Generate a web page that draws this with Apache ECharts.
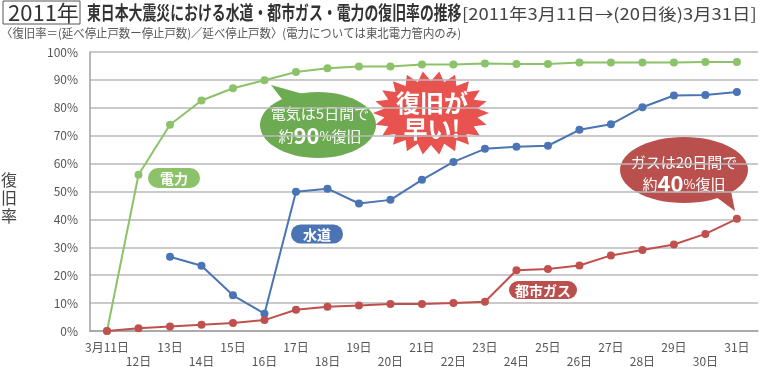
<!DOCTYPE html>
<html><head><meta charset="utf-8">
<script src="https://cdn.jsdelivr.net/npm/echarts@6/dist/echarts.min.js"></script>
<style>html,body{margin:0;padding:0;background:#fff}#c{width:760px;height:367px}</style>
</head><body><div id="c"></div>
<script>
const days = [11,12,13,14,15,16,17,18,19,20,21,22,23,24,25,26,27,28,29,30,31];
const power = [0,56.0,73.9,82.6,87.0,89.9,92.8,94.2,94.8,94.8,95.5,95.5,95.9,95.7,95.7,96.2,96.2,96.2,96.2,96.4,96.4];
const water = [null,null,26.6,23.4,12.8,6.2,49.9,51.0,45.7,47.0,54.2,60.6,65.3,66.0,66.4,72.1,74.1,80.2,84.4,84.6,85.7];
const gas = [0,1.0,1.6,2.2,2.9,3.9,7.6,8.7,9.1,9.7,9.7,10.0,10.5,21.8,22.2,23.5,27.1,29.0,31.0,34.8,40.2];
const oddDays = days.filter(d => d % 2 === 1);
const evenDays = days.filter(d => d % 2 === 0);
const F = '"Noto Sans CJK JP", "Noto Sans", sans-serif';

function pairs(vals){ const out=[]; days.forEach((d,i)=>{ if(vals[i]!==null) out.push([d,vals[i]]); }); return out; }
function ellipsePts(cx,cy,rx,ry,n){ const p=[]; for(let i=0;i<n;i++){const a=2*Math.PI*i/n; p.push([cx+rx*Math.cos(a), cy+ry*Math.sin(a)]);} return p; }
function starPts(cx,cy,rxo,ryo,rxi,ryi,n){ const p=[]; for(let i=0;i<2*n;i++){const a=Math.PI*i/n; const o=i%2===0; p.push([cx+(o?rxo:rxi)*Math.cos(a), cy+(o?ryo:ryi)*Math.sin(a)]);} return p; }

const GREEN='#8cc269', GREEN_D='#6dab52', BLUE='#4a74b4', RED='#c0504d', RED_D='#b9504d', BURST='#e9534f';

function pill(cx,cy,w,h,txt,col){
  return {type:'group', children:[
    {type:'rect', shape:{x:cx-w/2,y:cy-h/2,width:w,height:h,r:h/2}, style:{fill:col}},
    {type:'text', x:cx, y:cy+1, style:{text:txt, font:'bold 14px '+F, fill:'#fff', align:'center', verticalAlign:'middle'}}
  ]};
}
const dayFmt = v => (v === 11 ? '3月11日' : v + '日');

const chart = echarts.init(document.getElementById('c'), null, {renderer:'canvas'});
chart.setOption({
  animation:false,
  grid:{left:90, right:2, top:52, bottom:36, containLabel:false},
  xAxis:[
    {type:'value', position:'bottom', min:10.46, max:31.67,
      axisLine:{show:true, onZero:false, lineStyle:{color:'#a0a0a0', width:1.5}},
      axisTick:{show:false}, splitLine:{show:false},
      axisLabel:{customValues:oddDays, showMinLabel:true, showMaxLabel:true, hideOverlap:false, color:'#555', fontSize:12, fontFamily:F, margin:10, formatter:dayFmt}},
    {type:'value', position:'bottom', offset:0, min:10.46, max:31.67,
      axisLine:{show:false, onZero:false}, axisTick:{show:false}, splitLine:{show:false},
      axisLabel:{customValues:evenDays, showMinLabel:true, showMaxLabel:true, hideOverlap:false, color:'#555', fontSize:12, fontFamily:F, margin:24, formatter:dayFmt}}
  ],
  yAxis:{type:'value', min:0, max:100, interval:10,
    axisLine:{show:true, lineStyle:{color:'#a0a0a0', width:1.5}},
    axisTick:{show:false},
    splitLine:{lineStyle:{color:'#b8b8b8', width:1.5}},
    axisLabel:{color:'#555', fontSize:12, fontFamily:F, margin:12, formatter:'{value}%'}},
  series:[
    {type:'line', xAxisIndex:0, data:pairs(power), symbol:'circle', symbolSize:8, lineStyle:{color:GREEN,width:2}, itemStyle:{color:GREEN}, z:3},
    {type:'line', xAxisIndex:0, data:pairs(water), symbol:'circle', symbolSize:8, lineStyle:{color:BLUE,width:2}, itemStyle:{color:BLUE}, z:4},
    {type:'line', xAxisIndex:0, data:pairs(gas), symbol:'circle', symbolSize:8, lineStyle:{color:RED,width:2}, itemStyle:{color:RED}, z:5}
  ],
  graphic:[
    {type:'rect', shape:{x:3,y:1,width:77,height:23}, style:{fill:'none', stroke:'#555', lineWidth:1}},
    {type:'text', x:8, y:13, style:{text:'2011年', font:'22px '+F, fill:'#333', verticalAlign:'middle'}},
    {type:'text', x:87, y:13, scaleX:0.73, style:{text:'東日本大震災における水道・都市ガス・電力の復旧率の推移', font:'bold 19px '+F, fill:'#333', verticalAlign:'middle'}},
    {type:'text', x:462, y:14, scaleX:1.15, style:{text:'[2011年3月11日→(20日後)3月31日]', font:'16px '+F, fill:'#444', verticalAlign:'middle'}},
    {type:'text', x:1, y:33, scaleX:0.95, style:{text:'〈復旧率＝(延べ停止戸数ー停止戸数)／延べ停止戸数〉(電力については東北電力管内のみ)', font:'12px '+F, fill:'#555', verticalAlign:'middle'}},
    {type:'text', x:9, y:198, style:{text:'復\n旧\n率', font:'16px '+F, fill:'#444', align:'center', verticalAlign:'middle', lineHeight:18}},
    pill(174,178,52,20,'電力',GREEN),
    pill(317,234,52,19,'水道',BLUE),
    pill(543,290,68,18,'都市ガス',RED_D),
    {type:'polygon', shape:{points:[[271,85],[285,103],[303,94]]}, style:{fill:GREEN_D}},
    {type:'polygon', shape:{points:ellipsePts(318,125,58,33,60)}, style:{fill:GREEN_D}},
    {type:'text', x:320, y:113, style:{text:'電気は5日間で', font:'15px '+F, fill:'#fff', align:'center', verticalAlign:'middle'}},
    {type:'text', x:320, y:136, style:{text:'{a|約}{b|90}{c|%}{a|復旧}', align:'center', verticalAlign:'middle', rich:{a:{font:'15px '+F, fill:'#fff'}, b:{font:'bold 22px '+F, fill:'#fff'}, c:{font:'13px '+F, fill:'#fff'}}}},
    {type:'polygon', shape:{points:starPts(431,113,58,42,47,32,22)}, style:{fill:BURST}},
    {type:'text', x:432, y:103, style:{text:'復旧が', font:'bold 24px '+F, fill:'#fff', align:'center', verticalAlign:'middle'}},
    {type:'text', x:432, y:129, style:{text:'早い!', font:'bold 24px '+F, fill:'#fff', align:'center', verticalAlign:'middle'}},
    {type:'polygon', shape:{points:[[735,211],[712,194],[730,186]]}, style:{fill:RED_D}},
    {type:'polygon', shape:{points:ellipsePts(684,170,64,33,60)}, style:{fill:RED_D}},
    {type:'text', x:684, y:162, style:{text:'ガスは20日間で', font:'15px '+F, fill:'#fff', align:'center', verticalAlign:'middle'}},
    {type:'text', x:684, y:184, style:{text:'{a|約}{b|40}{c|%}{a|復旧}', align:'center', verticalAlign:'middle', rich:{a:{font:'15px '+F, fill:'#fff'}, b:{font:'bold 22px '+F, fill:'#fff'}, c:{font:'13px '+F, fill:'#fff'}}}}
  ]
});
</script></body></html>
